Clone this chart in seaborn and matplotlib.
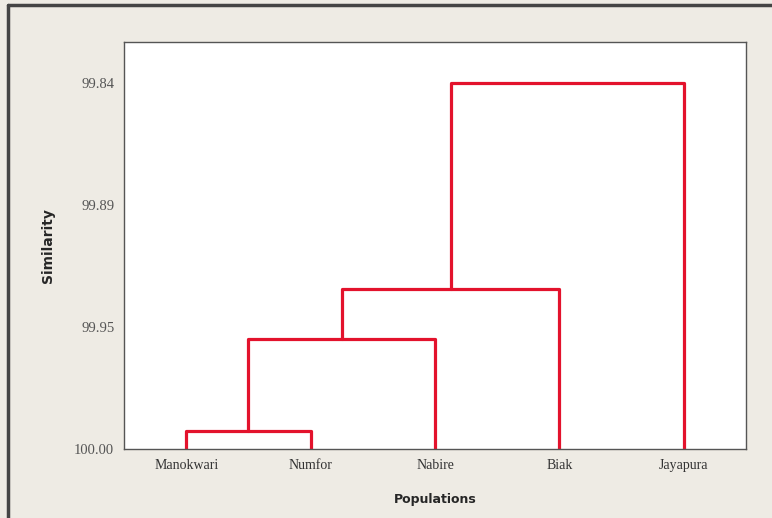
import matplotlib
matplotlib.use("Agg")
import matplotlib.pyplot as plt
import matplotlib.lines as mlines
import pandas as pd
import seaborn as sns

# leaves in dendrogram order
populations = ["Manokwari", "Numfor", "Nabire", "Biak", "Jayapura"]
# merges: (left cluster, right cluster, similarity level)
merge_left = ["Manokwari", "c1", "c2", "c3"]
merge_right = ["Numfor", "Nabire", "Biak", "Jayapura"]
merge_level = [99.992, 99.951, 99.9286, 99.8367]
ytick_values = [100.0, 99.9456, 99.8911, 99.8367]
ytick_labels = ["100.00", "99.95", "99.89", "99.84"]

# build the dendrogram segments
pos = {p: i for i, p in enumerate(populations)}
hgt = {p: 100.0 for p in populations}
rows = []
for k, (a, b, lvl) in enumerate(zip(merge_left, merge_right, merge_level)):
    xa, xb = pos[a], pos[b]
    seg = [(xa, hgt[a]), (xa, lvl), (xb, lvl), (xb, hgt[b])]
    for j, (x, y) in enumerate(seg):
        rows.append({"link": k, "order": j, "x": x, "y": y})
    name = "c%d" % (k + 1)
    pos[name] = (xa + xb) / 2
    hgt[name] = lvl
df = pd.DataFrame(rows)

sns.set_style("white")
plt.rcParams["font.family"] = ["Liberation Serif", "DejaVu Serif"]

bg = "#eeebe4"
fig = plt.figure(figsize=(7.72, 5.18), dpi=100, facecolor=bg)
ax = fig.add_axes([124 / 772, 1 - 449 / 518, 622 / 772, 407 / 518])
ax.set_facecolor("white")

sns.lineplot(data=df, x="x", y="y", units="link", estimator=None, sort=False,
             color="#e3122c", linewidth=2.3, ax=ax, legend=False)

ax.set_xlim(-0.5, 4.5)
ax.set_ylim(100.0, 100.0 - (100.0 - 99.8367) * 407 / 366)
ax.set_xticks(range(len(populations)))
ax.set_xticklabels(populations, fontsize=10, color="#333333")
ax.set_yticks(ytick_values)
ax.set_yticklabels(ytick_labels, fontsize=10.5, color="#555555")
ax.tick_params(axis="both", length=4, width=0.8, color="#555555", pad=3)
for s in ax.spines.values():
    s.set_color("#555555")
    s.set_linewidth(1.0)

ax.set_xlabel("Populations", fontsize=9, fontweight="bold",
              family=["DejaVu Sans"], labelpad=15)
ax.set_ylabel("Similarity", fontsize=10, fontweight="bold",
              family=["DejaVu Sans"], labelpad=14)

# outer frame (left and top edges)
fig.add_artist(mlines.Line2D([8 / 772, 8 / 772], [0, 1 - 5 / 518],
                             transform=fig.transFigure, color="#444444", lw=2.5))
fig.add_artist(mlines.Line2D([8 / 772, 1], [1 - 5 / 518, 1 - 5 / 518],
                             transform=fig.transFigure, color="#444444", lw=2.5))

fig.savefig("out.png", dpi=100, facecolor=bg)
